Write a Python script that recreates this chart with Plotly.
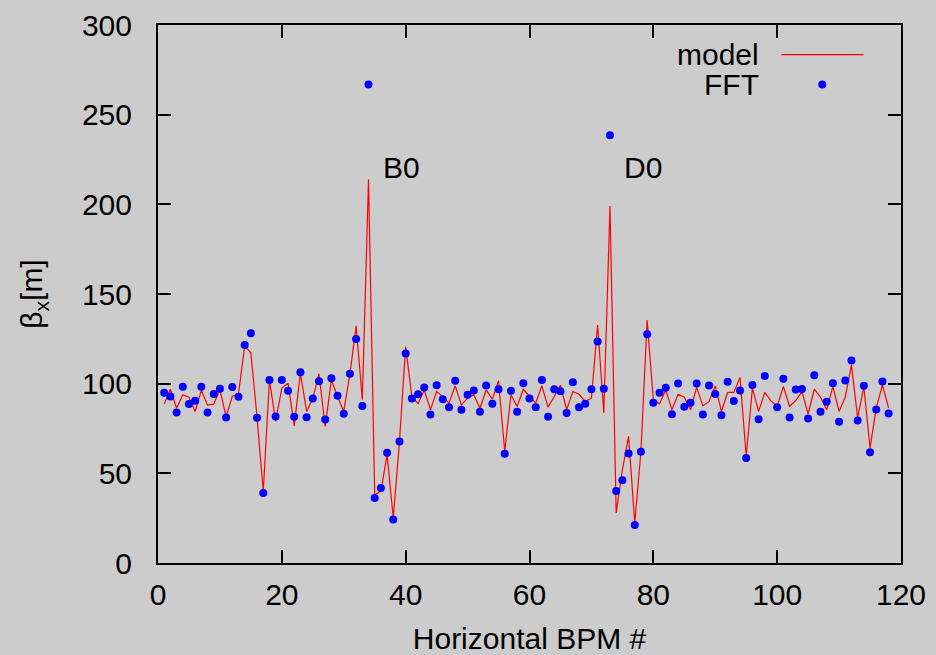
import plotly.graph_objects as go

bpm = list(range(1, 119))

model = [88.6, 96.9, 86.3, 93.8, 92.5, 84.5, 96.3, 88.0, 88.6, 96.7,
         81.5, 93.0, 94.2, 121.0, 117.3, 81.0, 40.0, 102.1, 78.9, 97.5,
         100.3, 76.5, 105.8, 84.5, 91.7, 105.5, 76.1, 102.1, 92.8, 84.5,
         105.5, 132.2, 91.0, 213.8, 38.1, 40.0, 60.4, 25.1, 67.8, 120.7,
         92.8, 88.8, 96.5, 85.4, 95.6, 92.8, 89.1, 98.8, 88.2, 91.9,
         93.8, 86.3, 96.5, 91.3, 101.7, 62.2, 93.8, 87.3, 96.9, 92.8,
         89.1, 98.8, 86.9, 92.8, 99.3, 85.4, 95.6, 94.1, 90.1, 91.9,
         132.7, 83.6, 199.1, 27.9, 52.0, 70.6, 22.4, 62.2, 135.5, 91.0,
         88.8, 96.5, 85.4, 94.1, 92.5, 85.4, 97.9, 87.6, 90.1, 98.8,
         84.5, 95.1, 95.1, 103.5, 59.5, 97.5, 84.5, 95.1, 90.4, 87.6,
         98.4, 87.3, 90.6, 95.6, 83.2, 96.9, 92.5, 85.4, 98.4, 84.5,
         92.5, 110.5, 80.8, 98.4, 64.1, 86.4, 99.3, 86.4]

fft = [95.0, 92.8, 83.9, 98.3, 88.6, 90.5, 98.3, 83.9, 94.3, 97.2,
       81.1, 98.2, 92.7, 121.6, 128.1, 81.0, 39.1, 102.1, 81.7, 102.1,
       96.0, 81.5, 106.4, 81.3, 91.7, 101.4, 80.0, 103.0, 93.2, 83.2,
       105.5, 124.9, 87.6, 266.8, 36.3, 41.8, 61.5, 24.2, 67.8, 116.8,
       91.7, 94.1, 97.9, 82.8, 99.1, 91.3, 86.9, 101.6, 85.4, 93.8,
       96.2, 84.3, 99.0, 88.8, 96.9, 60.9, 96.0, 84.3, 100.3, 91.7,
       86.9, 102.1, 81.5, 96.9, 95.8, 83.6, 100.8, 86.9, 88.8, 96.9,
       123.5, 97.1, 238.5, 40.2, 46.1, 61.1, 21.2, 62.0, 127.5, 89.3,
       94.9, 97.7, 83.0, 100.1, 87.1, 89.3, 100.1, 82.8, 99.0, 94.3,
       82.4, 101.0, 90.4, 96.2, 58.5, 99.3, 80.2, 104.3, None, 86.9,
       102.7, 81.2, 96.7, 97.0, 80.6, 104.7, 84.3, 89.9, 100.3, 78.7,
       101.7, 112.9, 79.5, 98.8, 61.7, 85.6, 101.2, 83.4]

labels = ["B0", "D0"]
label_x = [36.0, 75.0]
label_y = [220.4, 220.4]

xticks = [0, 20, 40, 60, 80, 100, 120]
yticks = [0, 50, 100, 150, 200, 250, 300]

FONT = "Liberation Sans, Arial, Helvetica, sans-serif"
FS = 30
BG = "#cccccc"

fig = go.Figure()
fig.add_trace(go.Scatter(x=bpm, y=model, mode="lines", name="model",
                         line=dict(color="#ff0000", width=1.2),
                         showlegend=False))
fig.add_trace(go.Scatter(x=bpm, y=fft, mode="markers", name="FFT",
                         marker=dict(color="#0000ff", size=8, line=dict(width=0)),
                         showlegend=False))

for t, lx, ly in zip(labels, label_x, label_y):
    fig.add_annotation(x=lx, y=ly, text=t, showarrow=False, xanchor="left",
                       yanchor="middle", font=dict(family=FONT, size=FS, color="black"))

# manual gnuplot-style key (text left, sample right)
fig.add_annotation(x=0.811, y=0.945, xref="paper", yref="paper", text="model",
                   showarrow=False, xanchor="right", yanchor="middle",
                   font=dict(family=FONT, size=FS, color="black"))
fig.add_annotation(x=0.811, y=0.8896, xref="paper", yref="paper", text="FFT",
                   showarrow=False, xanchor="right", yanchor="middle",
                   font=dict(family=FONT, size=FS, color="black"))
fig.add_shape(type="line", xref="paper", yref="paper", x0=0.839, x1=0.9495,
              y0=0.945, y1=0.945, line=dict(color="#ff0000", width=1.2))
fig.add_shape(type="circle", xref="paper", yref="paper", xsizemode="pixel",
              ysizemode="pixel", xanchor=0.8941, yanchor=0.8896,
              x0=-4, x1=4, y0=-4, y1=4, fillcolor="#0000ff",
              line=dict(width=0))

axis_common = dict(showline=True, linecolor="black", linewidth=2, mirror="ticks",
                   ticks="inside", ticklen=13, tickwidth=2, tickcolor="black",
                   showgrid=False, zeroline=False,
                   tickfont=dict(family=FONT, size=FS, color="black"))

fig.update_xaxes(range=[0, 120], tickvals=xticks, ticktext=[str(v) for v in xticks],
                 title=dict(text="Horizontal BPM #", standoff=20,
                            font=dict(family=FONT, size=FS, color="black")),
                 ticklabelstandoff=4, **axis_common)
fig.update_yaxes(range=[0, 300], tickvals=yticks, ticktext=[str(v) for v in yticks],
                 title=dict(text="β<sub>x</sub>[m]", standoff=30,
                            font=dict(family=FONT, size=FS, color="black")),
                 ticklabelstandoff=18, **axis_common)

fig.update_layout(width=936, height=655, paper_bgcolor=BG, plot_bgcolor=BG,
                  margin=dict(l=157.5, r=34.5, t=24.5, b=91.5, autoexpand=False),
                  font=dict(family=FONT, size=FS, color="black"))

fig.write_html("out.html")
